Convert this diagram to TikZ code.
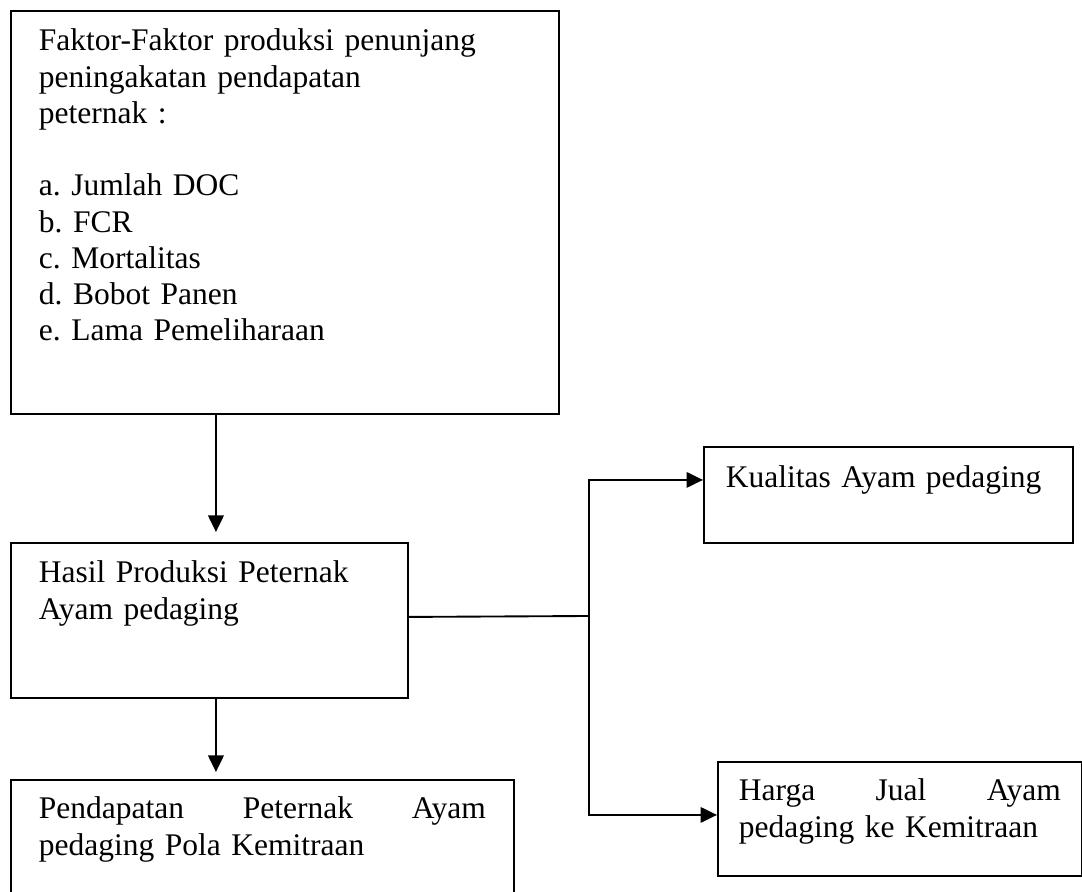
\documentclass[tikz,border=0pt]{standalone}
\usepackage{fontspec}
\setmainfont{Liberation Serif}
\usetikzlibrary{arrows.meta, positioning, calc}

\begin{document}
\begin{tikzpicture}[x=0.4pt, y=-0.4pt,
    kotak/.style={draw=black, line width=0.75pt, anchor=north west, align=left,
        inner ysep=0pt, inner xsep=11.2pt, font=\fontsize{12.6pt}{14.5pt}\selectfont\frenchspacing},
    panah/.style={draw=black, line width=0.85pt, -{Triangle[length=6.6pt, width=6.2pt]}}]
  \useasboundingbox (0,0) rectangle (1082,892);
  \clip (0,0) rectangle (1082,892);

  \node[kotak, text width=196.8pt, text height=16pt, text depth=145.2pt] (faktor) at (10,10) {
      Faktor-Faktor produksi penunjang\\
      peningakatan pendapatan\\
      peternak :\\[14.5pt]
      a. Jumlah DOC\\
      b. FCR\\
      c. Mortalitas\\
      d. Bobot Panen\\
      e. Lama Pemeliharaan};
  \node[kotak, text width=136.4pt, text height=16pt, text depth=46pt] (hasil) at (10,542) {
      Hasil Produksi Peternak\\
      Ayam pedaging};
  \node[kotak, text width=178.8pt, text height=15.6pt, text depth=40.8pt] (pendapatan) at (10,779) {
      Pendapatan\hfill Peternak\hfill Ayam\\
      pedaging Pola Kemitraan};
  \node[kotak, inner xsep=8.8pt, text width=130pt, text height=16.4pt, text depth=22pt] (kualitas) at (703,446) {
      Kualitas Ayam pedaging};
  \node[kotak, inner xsep=8.4pt, text width=128.8pt, text height=15.6pt, text depth=30pt] (harga) at (717,761) {
      Harga\hfill Jual\hfill Ayam\\
      pedaging ke Kemitraan};

  \coordinate (k1) at ([xshift=2.6pt]hasil.north);
  \coordinate (k2) at ([xshift=2.6pt]hasil.south);
  \coordinate (cabang) at (589,616);
  \draw[panah, shorten >=4pt] (k1 |- faktor.south) -- (k1);
  \draw[panah, shorten >=2.8pt] (k2) -- (k2 |- pendapatan.north);
  \draw[line width=0.75pt] ([yshift=1.4pt]hasil.east) -- (cabang);
  \draw[panah] (cabang) |- ([yshift=6pt]kualitas.west);
  \draw[panah] (cabang) |- ([yshift=1.6pt]harga.west);
\end{tikzpicture}
\end{document}
